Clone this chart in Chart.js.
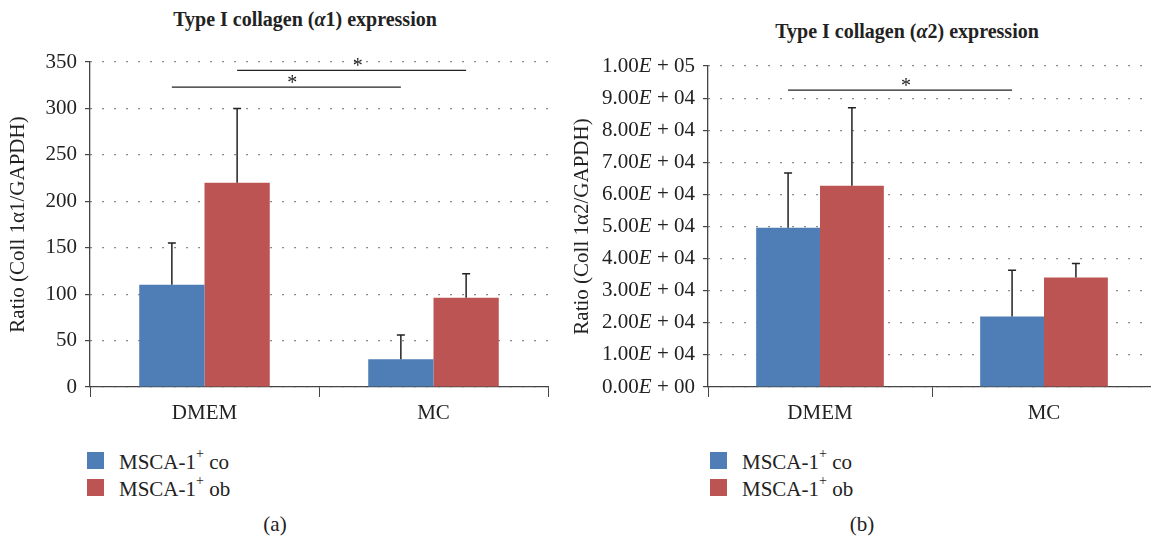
<!DOCTYPE html>
<html>
<head>
<meta charset="utf-8">
<script src="https://cdn.jsdelivr.net/npm/chart.js@4.4.1/dist/chart.umd.min.js"></script>
<style>
  body { margin: 0; width: 1151px; height: 539px; overflow: hidden; background: #fff; position: relative; font-family: "Liberation Serif", "DejaVu Serif", serif; color: #222; }
  .titulo { position: absolute; font-weight: bold; font-size: 20px; white-space: nowrap; transform: translateX(-50%); }
  .grafico { position: absolute; top: 0; height: 420px; }
  .legenda { position: absolute; font-size: 21px; }
  .legenda div { position: relative; height: 27px; padding-left: 32px; line-height: 17px; white-space: nowrap; }
  .legenda span.txt { position: relative; top: -4px; }
  .legenda span.cx { position: absolute; left: 0; top: 0; width: 17px; height: 17px; }
  .legenda sup { font-size: 14px; position: relative; top: -3px; }
  .rotulo { position: absolute; font-size: 21px; transform: translateX(-50%); }
</style>
</head>
<body>
<div class="titulo" style="left:305px; top:8px;">Type I collagen (<i>α</i>1) expression</div>
<div class="titulo" style="left:907px; top:20px;">Type I collagen (<i>α</i>2) expression</div>

<canvas id="graficoA" class="grafico" style="left:0; width:560px;" width="560" height="420"></canvas>
<canvas id="graficoB" class="grafico" style="left:570px; width:590px;" width="590" height="420"></canvas>

<div class="legenda" style="left:87px; top:452px;">
  <div><span class="cx" style="background:#4f7db5"></span><span class="txt">MSCA-1<sup>+</sup> co</span></div>
  <div><span class="cx" style="background:#bb5452"></span><span class="txt">MSCA-1<sup>+</sup> ob</span></div>
</div>
<div class="legenda" style="left:710px; top:452px;">
  <div><span class="cx" style="background:#4f7db5"></span><span class="txt">MSCA-1<sup>+</sup> co</span></div>
  <div><span class="cx" style="background:#bb5452"></span><span class="txt">MSCA-1<sup>+</sup> ob</span></div>
</div>
<div class="rotulo" style="left:275px; top:512px;">(a)</div>
<div class="rotulo" style="left:862px; top:512px;">(b)</div>

<script>
const categorias = ['DMEM', 'MC'];
const series = ['MSCA-1+ co', 'MSCA-1+ ob'];
const cores = ['#4f7db5', '#bb5452'];

// alfa 1
const alfa1Co = [110, 30];
const alfa1Ob = [220, 96];
const alfa1CoErro = [155, 56];
const alfa1ObErro = [300, 122];
const alfa1Ticks = [0, 50, 100, 150, 200, 250, 300, 350];
// significancia: [serie, altura]
const alfa1Sig = [[0, 323], [1, 341]];

// alfa 2
const alfa2Co = [49600, 22000];
const alfa2Ob = [62700, 34100];
const alfa2CoErro = [66700, 36400];
const alfa2ObErro = [87000, 38500];
const alfa2Sig = [[0, 92500]];

const familia = '"Liberation Serif", "DejaVu Serif", serif';
const fonte = { family: familia, size: 21 };

const barrasErro = {
  id: 'barrasErro',
  afterDatasetsDraw(chart, args, opts) {
    const ctx = chart.ctx;
    const y = chart.scales.y;
    ctx.save();
    ctx.strokeStyle = '#222';
    ctx.lineWidth = 1.5;
    chart.data.datasets.forEach((ds, i) => {
      const meta = chart.getDatasetMeta(i);
      meta.data.forEach((bar, j) => {
        const topo = y.getPixelForValue(opts.erros[i][j]);
        ctx.beginPath();
        ctx.moveTo(bar.x, bar.y);
        ctx.lineTo(bar.x, topo);
        ctx.moveTo(bar.x - 4, topo);
        ctx.lineTo(bar.x + 4, topo);
        ctx.stroke();
      });
    });
    // linhas de significancia
    ctx.lineWidth = 1.3;
    ctx.fillStyle = '#222';
    ctx.font = '20px ' + familia;
    ctx.textAlign = 'center';
    opts.sig.forEach(([s, v]) => {
      const meta = chart.getDatasetMeta(s);
      const x1 = meta.data[0].x, x2 = meta.data[1].x;
      const py = y.getPixelForValue(v);
      ctx.beginPath();
      ctx.moveTo(x1, py);
      ctx.lineTo(x2, py);
      ctx.stroke();
      ctx.fillText('*', (x1 + x2) / 2 + 6, py + 2);
    });
    ctx.restore();
  }
};

// rotulos do eixo y no formato 1.00E + 05 com E em italico
const rotulosCientificos = {
  id: 'rotulosCientificos',
  afterDraw(chart, args, opts) {
    if (!opts.ativo) return;
    const ctx = chart.ctx;
    const y = chart.scales.y;
    ctx.save();
    ctx.fillStyle = '#222';
    ctx.textBaseline = 'middle';
    y.ticks.forEach(t => {
      const v = t.value;
      const exp = v === 0 ? 0 : Math.floor(Math.log10(v) + 1e-9);
      const m = v / Math.pow(10, exp);
      const partes = [
        [m.toFixed(2), 'normal'],
        ['E', 'italic'],
        [' + ' + String(exp).padStart(2, '0'), 'normal']
      ];
      let largura = 0;
      partes.forEach(p => { ctx.font = p[1] + ' 21px ' + familia; largura += ctx.measureText(p[0]).width; });
      let x = y.right - 5 - 8 - largura;
      const py = y.getPixelForValue(v);
      partes.forEach(p => {
        ctx.font = p[1] + ' 21px ' + familia;
        ctx.fillText(p[0], x, py);
        x += ctx.measureText(p[0]).width;
      });
    });
    ctx.restore();
  }
};

function criarGrafico(id, co, ob, erros, sig, opcoesY, larguraY, tituloY, tituloPad, padDir, padTopo, cientifico) {
  return new Chart(document.getElementById(id), {
    type: 'bar',
    data: {
      labels: categorias,
      datasets: [
        { label: series[0], data: co, backgroundColor: cores[0] },
        { label: series[1], data: ob, backgroundColor: cores[1] }
      ]
    },
    plugins: [barrasErro, rotulosCientificos],
    options: {
      responsive: false,
      animation: false,
      layout: { padding: { top: padTopo, right: padDir, bottom: 0, left: 0 } },
      datasets: { bar: { barPercentage: 1, categoryPercentage: 0.57 } },
      plugins: {
        legend: { display: false },
        tooltip: { enabled: false },
        barrasErro: { erros: erros, sig: sig },
        rotulosCientificos: { ativo: cientifico }
      },
      scales: {
        x: {
          grid: { offset: true, drawOnChartArea: false, color: '#444', tickLength: 10 },
          border: { color: '#444', width: 1.3 },
          ticks: { color: '#222', font: fonte, padding: 4 },
          afterFit: s => { s.height = 33; }
        },
        y: Object.assign({
          border: { color: '#444', width: 1.3, dash: [1.5, 10.5] },
          grid: { color: '#666', lineWidth: 1.2, tickColor: '#444', tickLength: 5, tickBorderDash: [] },
          ticks: { color: cientifico ? 'rgba(0,0,0,0)' : '#222', font: fonte, padding: 8 },
          title: { display: true, text: tituloY, color: '#222', font: fonte, padding: tituloPad },
          afterFit: s => { s.width = larguraY; }
        }, opcoesY)
      }
    }
  });
}

criarGrafico('graficoA', alfa1Co, alfa1Ob, [alfa1CoErro, alfa1ObErro], alfa1Sig,
  {
    min: 0, max: 350,
    afterBuildTicks: s => { s.ticks = alfa1Ticks.map(v => ({ value: v })); }
  },
  90, 'Ratio (Coll 1α1/GAPDH)', { top: 6, bottom: 0 }, 12, 62, false);

criarGrafico('graficoB', alfa2Co, alfa2Ob, [alfa2CoErro, alfa2ObErro], alfa2Sig,
  {
    min: 0, max: 100000,
    ticks: { color: 'rgba(0,0,0,0)', font: fonte, padding: 8, stepSize: 10000, callback: v => '' }
  },
  138, 'Ratio (Coll 1α2/GAPDH)', { top: 0, bottom: 0 }, 4, 66, true);
</script>
</body>
</html>
